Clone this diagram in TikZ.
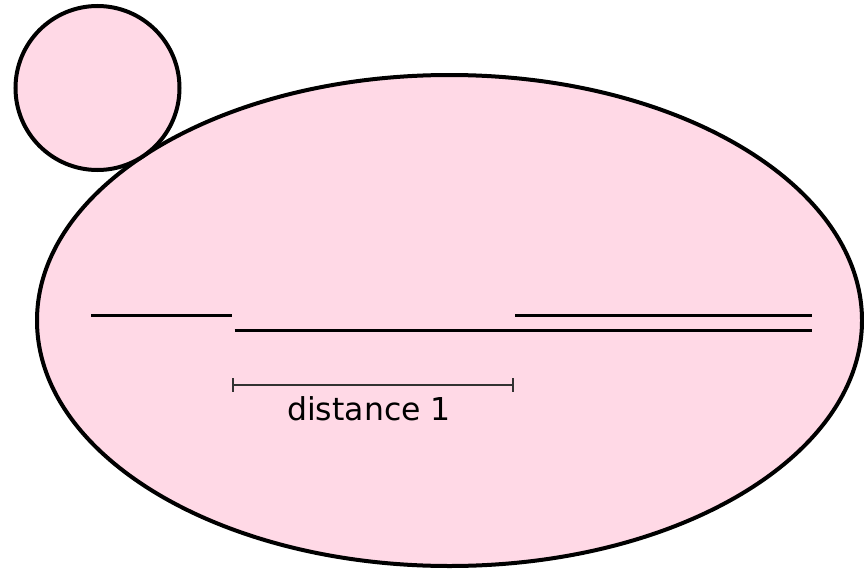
\documentclass[tikz,border=0pt]{standalone}
\usepackage{fontspec}
\setmainfont{DejaVu Sans}
\definecolor{cellpink}{RGB}{255,217,230}
\definecolor{bardark}{RGB}{50,50,50}
\begin{document}
\begin{tikzpicture}[x=1pt,y=-1pt,
  blob/.style={draw=black,line width=4pt,fill=cellpink},
  strand/.style={draw=black,line width=3pt},
  scalebar/.style={draw=bardark,line width=1.6pt},
  lbl/.style={font=\fontsize{31.5}{38}\selectfont,inner sep=0pt,anchor=base}]
\useasboundingbox (0,0) rectangle (864,570);
\fill[white] (0,0) rectangle (864,570);
\draw[blob] (449.5,320.5) ellipse [x radius=412.5,y radius=245.5];
\draw[blob] (97.5,88) circle [radius=82];
\coordinate (a1) at (91,315); \coordinate (a2) at (232,315);
\coordinate (b1) at (234.5,330); \coordinate (b2) at (812,330);
\coordinate (c1) at (515,315); \coordinate (c2) at (812,315);
\draw[strand] (a1) -- (a2);
\draw[strand] (b1) -- (b2);
\draw[strand] (c1) -- (c2);
\coordinate (d1) at (233,385); \coordinate (d2) at (513,385);
\draw[scalebar] (d1) -- (d2);
\draw[scalebar] (233,378) -- (233,392);
\draw[scalebar] (513,378) -- (513,392);
\node[lbl] (dist) at (369,420) {distance 1};
\end{tikzpicture}
\end{document}
